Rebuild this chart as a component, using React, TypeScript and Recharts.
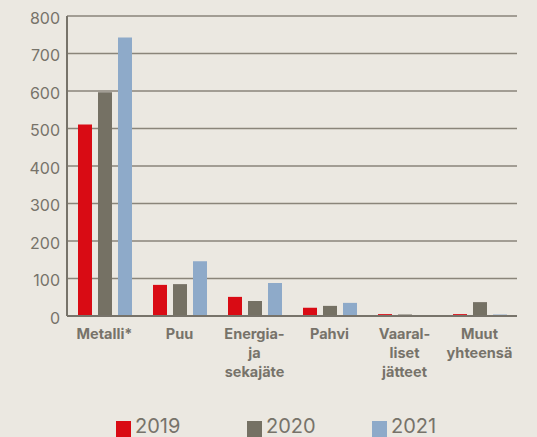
import { BarChart, Bar, XAxis, YAxis, CartesianGrid } from 'recharts'

const categories = ['Metalli*', 'Puu', 'Energia-\nja\nsekajäte', 'Pahvi', 'Vaaral-\nliset\njätteet', 'Muut\nyhteensä']
const years = ['2019', '2020', '2021']
const v2019 = [511, 83, 51, 22, 5, 5]
const v2020 = [597, 85, 40, 27, 4, 37]
const v2021 = [743, 146, 88, 35, 1, 4]
const yTicks = [0, 100, 200, 300, 400, 500, 600, 700, 800]

const COLORS = ['#d90b14', '#757164', '#8eaac9']
const BG = '#ebe8e1'
const TEXT = '#77736a'
const FONT = 'Inter, "Open Sans", sans-serif'

const data = categories.map((c, i) => ({
  cat: c,
  y2019: v2019[i],
  y2020: v2020[i],
  y2021: v2021[i],
}))

// etiquetas de varias líneas
const CatTick = (props: any) => {
  const { x, y, payload } = props
  const lines = String(payload.value).split('\n')
  return (
    <text x={x} y={y} textAnchor="middle" fill={TEXT} fontSize={14.5} fontWeight={700} fontFamily={FONT}>
      {lines.map((l, i) => (
        <tspan key={i} x={x} dy={i === 0 ? 15 : 19}>{l}</tspan>
      ))}
    </text>
  )
}

export default function App() {
  const legendX = [116, 247, 372]
  return (
    <div style={{ position: 'absolute', left: 0, top: 0, width: 537, height: 437, background: BG, overflow: 'hidden' }}>
      <BarChart
        width={537}
        height={437}
        data={data}
        margin={{ top: 16, right: 20, left: 0, bottom: 0 }}
        barSize={14}
        barGap={6}
      >
        <CartesianGrid vertical={false} stroke="#8a857a" strokeWidth={1.5} />
        <XAxis
          dataKey="cat"
          interval={0}
          height={121}
          tickLine={false}
          axisLine={{ stroke: TEXT, strokeWidth: 2 }}
          tick={<CatTick />}
        />
        <YAxis
          width={67}
          domain={[0, 800]}
          ticks={yTicks}
          tickLine={false}
          tickSize={0}
          tickMargin={7}
          axisLine={{ stroke: TEXT, strokeWidth: 2 }}
          tick={{ fontSize: 16, fill: TEXT, fontFamily: FONT, dy: 2 }}
        />
        <Bar dataKey="y2019" fill={COLORS[0]} isAnimationActive={false} />
        <Bar dataKey="y2020" fill={COLORS[1]} isAnimationActive={false} />
        <Bar dataKey="y2021" fill={COLORS[2]} isAnimationActive={false} />
      </BarChart>
      {years.map((y, i) => (
        <div key={y}>
          <div style={{ position: 'absolute', left: legendX[i], top: 421, width: 15, height: 18, background: COLORS[i] }} />
          <div style={{ position: 'absolute', left: legendX[i] + 19, top: 416, fontSize: 20, lineHeight: '20px', color: TEXT, fontFamily: FONT }}>{y}</div>
        </div>
      ))}
    </div>
  )
}
